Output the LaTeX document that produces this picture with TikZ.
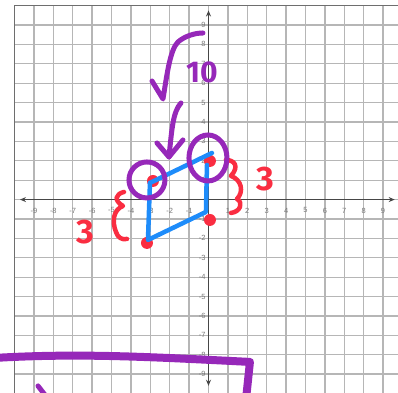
\documentclass[tikz,border=0pt]{standalone}
\usepackage{fontspec}
\setmainfont{Liberation Sans}
\newfontfamily\hand{Fira Sans}
\usetikzlibrary{arrows.meta,shapes.geometric}
\definecolor{gridc}{RGB}{182,182,182}
\definecolor{framec}{RGB}{110,110,110}
\definecolor{axisc}{RGB}{70,70,70}
\definecolor{labc}{RGB}{120,120,120}
\definecolor{penred}{RGB}{250,45,65}
\definecolor{penblue}{RGB}{30,140,250}
\definecolor{penpurple}{RGB}{150,40,185}
\begin{document}
\begin{tikzpicture}[x=19.4pt,y=19.4pt,
  gridline/.style={draw=gridc, line width=1.3pt},
  framebox/.style={draw=framec, line width=1.4pt},
  axisline/.style={draw=axisc, line width=1pt, {Stealth[length=6pt,width=5pt]}-{Stealth[length=6pt,width=5pt]}},
  ticklab/.style={text=labc, font=\fontsize{7.5}{8}\selectfont, inner sep=0.5pt},
  redpen/.style={draw=penred, line width=4.5pt, line cap=round, line join=round},
  bluepen/.style={draw=penblue, line width=4.5pt, line cap=round, line join=round},
  purplepen/.style={draw=penpurple, line width=5pt, line cap=round, line join=round},
  reddot/.style={circle, fill=penred, minimum size=12pt, inner sep=0pt},
  handtext/.style={font=\hand\bfseries\fontsize{34}{34}\selectfont, inner sep=0pt}
]
\useasboundingbox (-10.75,-9.96) rectangle (9.77,10.29);
\begin{scope}
  \clip (-10,-10) rectangle (10,10);
  \foreach \i in {-9,...,9} {
    \draw[gridline] (\i,-10) -- (\i,10);
    \draw[gridline] (-10,\i) -- (10,\i);
  }
\end{scope}
\draw[framebox] (-10,-10) rectangle (10,10);
\coordinate (xl) at (-9.72,0);
\coordinate (xr) at (9.6,0);
\coordinate (yb) at (0,-9.6);
\coordinate (yt) at (0,9.75);
\draw[axisline] (xl) -- (xr);
\draw[axisline] (yb) -- (yt);
\foreach \i in {-9,...,-1,1,2,...,9} {
  \node[ticklab] (xt\i) at (\i,-0.56) {\i};
  \node[ticklab, anchor=east] (yt\i) at (-0.12,\i) {\i};
}
\begin{scope}[shift={(-10.75,10.29)}, x=1pt, y=-1pt]
  % red points
  \node[reddot] (p1) at (153,181) {};
  \node[reddot] (p2) at (210,161) {};
  \node[reddot] (p3) at (210,220) {};
  \node[reddot] (p4) at (147,243) {};
  % blue quadrilateral
  \coordinate (b1) at (150,183);
  \coordinate (b2) at (212,153);
  \coordinate (b3) at (207,165);
  \coordinate (b4) at (206,212);
  \coordinate (b5) at (148,240);
  \draw[bluepen] (b1) -- (b2);
  \draw[bluepen] (b3) -- (b4) -- (b5) -- (b1);
  % red braces and labels
  \draw[redpen] (226,160) .. controls (234,160) and (240,166) .. (231,176)
     .. controls (242,180) and (244,192) .. (237,199)
     .. controls (244,203) and (240,212) .. (231,213);
  \draw[redpen] (124,192) .. controls (116,194) and (113,200) .. (123,206)
     .. controls (113,210) and (112,222) .. (116,232)
     .. controls (118,238) and (122,240) .. (127,239);
  \node[handtext, text=penred] (t3a) at (85,232) {3};
  \node[handtext, text=penred] (t3b) at (265,179) {3};
  % purple annotations
  \node[draw=penpurple, line width=5pt, circle, minimum size=36pt, inner sep=0pt] (c1) at (147,180) {};
  \node[draw=penpurple, line width=5pt, ellipse, minimum width=38pt, minimum height=46pt, inner sep=0pt] (c2) at (208,158) {};
  \draw[purplepen] (152,81) -- (163,99) .. controls (167,75) and (170,50) .. (178,42)
     .. controls (185,36) and (195,33) .. (203,33);
  \node[handtext, text=penpurple, font=\hand\bfseries\fontsize{30}{30}\selectfont] (t10) at (202,72) {10};
  \coordinate (a1) at (181,103);
  \coordinate (a2) at (169,157);
  \draw[purplepen] (a1) .. controls (173,112) and (172,128) .. (a2);
  \draw[purplepen] (157,143) -- (a2) -- (183,140);
  \coordinate (l1) at (-5,358);
  \coordinate (l2) at (250,362);
  \coordinate (l3) at (246,400);
  \draw[purplepen, line width=8pt] (l1) .. controls (80,353) and (150,357) .. (l2) -- (l3);
  \draw[purplepen] (38,386) -- (45,395);
\end{scope}
\end{tikzpicture}
\end{document}
